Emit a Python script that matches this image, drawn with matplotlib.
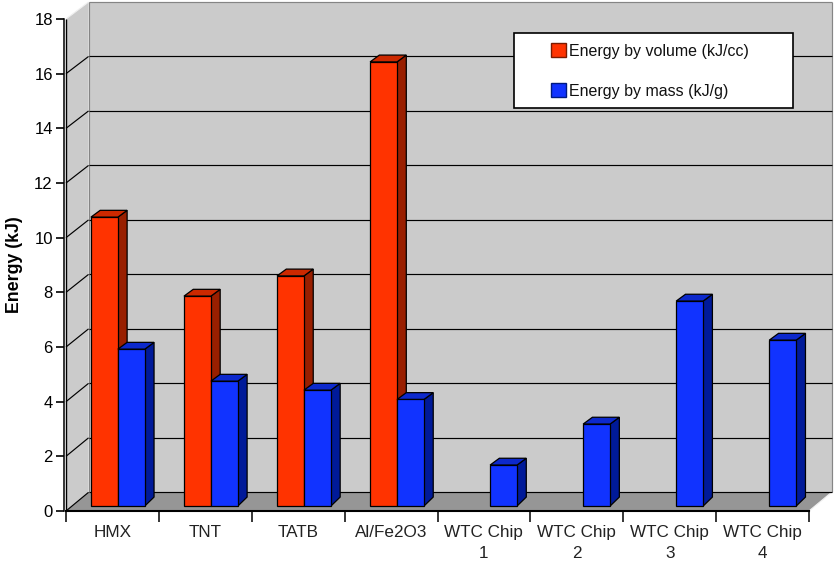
import matplotlib
matplotlib.use('Agg')
import matplotlib.pyplot as plt
from matplotlib.patches import Polygon, Rectangle, Patch

plt.rcParams['font.family'] = ['Liberation Sans', 'DejaVu Sans']

# data
categories = ['HMX', 'TNT', 'TATB', 'Al/Fe2O3', 'WTC Chip\n1', 'WTC Chip\n2', 'WTC Chip\n3', 'WTC Chip\n4']
energy_volume = [10.57, 7.68, 8.42, 16.25, None, None, None, None]
energy_mass = [5.74, 4.57, 4.24, 3.9, 1.5, 3.0, 7.5, 6.07]
yticks = list(range(0, 20, 2))

# 3d look, in data units
wall_dx = 0.243
base_y = 0.18
bar_start = 0.268
bar_step = 1.002
bar_w = 0.29
depth_dx = 0.1
depth_dy = 0.25
depth_dy_base = 0.33

fig = plt.figure(figsize=(8.35, 5.63), dpi=100)
ax = fig.add_axes([66 / 835, (563 - 511) / 563, 743 / 835, 492 / 563])
ax.set_xlim(0, 8)
ax.set_ylim(0, 18)


def back(t):
    # the back wall is a touch smaller than the front plane
    return 0.684 + t * 0.9966


def poly(pts, fc, ec='none', lw=0.0, z=1):
    ax.add_patch(Polygon(pts, closed=True, facecolor=fc, edgecolor=ec, linewidth=lw, zorder=z, clip_on=False))


def line(xs, ys, color='black', lw=0.85, z=2):
    ax.plot(xs, ys, color=color, lw=lw, zorder=z, clip_on=False, solid_capstyle='butt')


# walls and floor
poly([(wall_dx, back(0)), (8 + wall_dx, back(0)), (8 + wall_dx, back(18)), (wall_dx, back(18))], '#cbcbcb')
poly([(0, 0), (wall_dx, back(0)), (wall_dx, back(18)), (0, 18)], '#cbcbcb')
poly([(0, 0), (8, 0), (8 + wall_dx, back(0)), (wall_dx, back(0))], '#969696')
line([wall_dx, wall_dx], [back(0), back(18)], '#858585')
line([wall_dx, 8 + wall_dx], [back(18), back(18)], '#858585')
line([8 + wall_dx, 8 + wall_dx], [back(0), back(18)], '#858585')
line([0, wall_dx], [18, back(18)], '#f0f0f0')
line([8, 8 + wall_dx], [0, back(0)], '#f0f0f0')
line([0, 0], [0, 18], 'black', 1.0, 3)

# grid lines go along the left wall and then across the back
for t in yticks[:-1]:
    line([0, wall_dx], [t, back(t)])
    line([wall_dx, 8 + wall_dx], [back(t), back(t)])


def bar3d(x, val, front, side, top, z):
    y0 = base_y
    y1 = base_y + val
    x1 = x + bar_w
    poly([(x1, y0), (x1 + depth_dx, y0 + depth_dy_base), (x1 + depth_dx, y1 + depth_dy), (x1, y1)], side, 'black', 0.9, z)
    poly([(x, y1), (x1, y1), (x1 + depth_dx, y1 + depth_dy), (x + depth_dx, y1 + depth_dy)], top, 'black', 0.9, z)
    poly([(x, y0), (x1, y0), (x1, y1), (x, y1)], front, 'black', 0.9, z)


for i in range(len(categories)):
    left = bar_start + i * bar_step
    if energy_volume[i] is not None:
        bar3d(left, energy_volume[i], '#ff3300', '#991f00', '#cc2900', 5 + i * 2)
    bar3d(left + bar_w, energy_mass[i], '#1133ff', '#001a99', '#0d29cc', 6 + i * 2)

# legend, the box is drawn by hand because the entries sit off centre
box_x = (514 - 66) / 743 * 8
box_w = 279 / 743 * 8
box_y = (511 - 108) / 492 * 18
box_h = 75 / 492 * 18
ax.add_patch(Rectangle((box_x, box_y), box_w, box_h, facecolor='white', edgecolor='black', linewidth=1.2, zorder=30))
leg = ax.legend(handles=[Patch(facecolor='#ff3300', edgecolor='#7a1a00', label='Energy by volume (kJ/cc)'),
                         Patch(facecolor='#1133ff', edgecolor='#001a80', label='Energy by mass (kJ/g)')],
                loc='center left', bbox_to_anchor=((551 - 66) / 743, (511 - 71) / 492), frameon=False,
                fontsize=11.5, handlelength=0.95, handleheight=0.95, handletextpad=0.15, labelspacing=1.55,
                borderpad=0, borderaxespad=0, labelcolor='#111111')
leg.set_zorder(31)

# axes
for s in ['top', 'right']:
    ax.spines[s].set_visible(False)
ax.spines['left'].set_position(('outward', 1.5))
ax.spines['left'].set_linewidth(1.1)
ax.spines['bottom'].set_linewidth(1.5)
ax.set_yticks(yticks)
ax.tick_params(axis='y', length=6, width=1.2, pad=2, labelsize=12)
ax.set_xticks(range(9))
ax.set_xticklabels([])
ax.tick_params(axis='x', length=8, width=1.1)
ax.set_xticks([i + 0.5 for i in range(8)], minor=True)
ax.set_xticklabels(categories, minor=True, fontsize=12.3, linespacing=1.5, color='#222222')
ax.tick_params(axis='x', which='minor', length=0, pad=10)
ax.set_ylabel('Energy (kJ)', fontsize=12.8, fontweight='bold', labelpad=8)

plt.savefig('out.png', dpi=100)
